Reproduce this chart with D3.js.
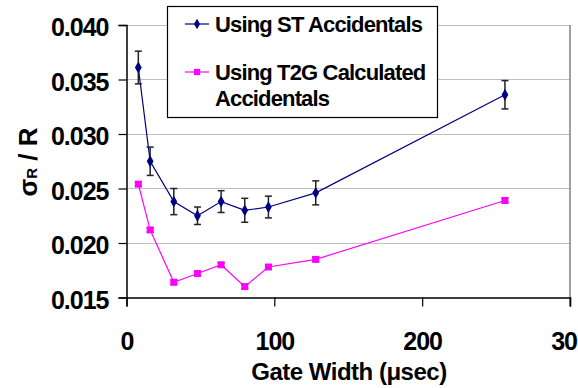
<!DOCTYPE html>
<html>
<head>
<meta charset="utf-8">
<script src="https://cdn.jsdelivr.net/npm/d3@7"></script>
<style>
  body { margin: 0; background: #fff; }
  text { font-family: "Liberation Sans", Arial, sans-serif; font-weight: bold; fill: #000; }
</style>
</head>
<body>
<svg id="chart" width="578" height="388"></svg>
<script>
var gateWidths = [8, 16, 32, 48, 64, 80, 96, 128, 256];
var stVals = [0.0361, 0.0275, 0.0238, 0.0225, 0.0238, 0.0230, 0.0233, 0.0246, 0.0336];
var stErr = [0.0015, 0.0013, 0.0012, 0.0008, 0.0010, 0.0011, 0.0010, 0.0011, 0.0013];
var t2gVals = [0.0254, 0.0212, 0.0164, 0.0172, 0.0180, 0.0160, 0.0178, 0.0185, 0.0239];
var t2gErr = [0.0002, 0.0002, 0.0002, 0.0002, 0.0002, 0.0002, 0.0002, 0.0002, 0.0002];
var xTicks = [0, 100, 200, 300];
var yTicks = [0.015, 0.020, 0.025, 0.030, 0.035, 0.040];
var legendLabels = [["Using ST Accidentals"], ["Using T2G Calculated", "Accidentals"]];

var svg = d3.select("#chart");

var x = d3.scaleLinear().domain([0, 300]).range([126.5, 570]);
var y = d3.scaleLinear().domain([0.015, 0.040]).range([297.5, 25]);

// gridlines
svg.append("g").selectAll("line")
  .data(yTicks.slice(1))
  .enter().append("line")
  .attr("x1", x(0)).attr("x2", x(300))
  .attr("y1", function(d) { return Math.round(y(d)) + 0.5; })
  .attr("y2", function(d) { return Math.round(y(d)) + 0.5; })
  .attr("stroke", "#808080")
  .attr("stroke-width", 1)
  .attr("stroke-dasharray", "1,1");

// right border
svg.append("line")
  .attr("x1", x(300)).attr("x2", x(300))
  .attr("y1", y(0.040)).attr("y2", y(0.015) + 9)
  .attr("stroke", "#808080").attr("stroke-width", 1.5);

// y axis
var yAxis = svg.append("g")
  .attr("transform", "translate(" + x(0) + ",0)")
  .call(d3.axisLeft(y).tickValues(yTicks).tickSize(8).tickPadding(10)
    .tickFormat(d3.format(".3f")));
yAxis.select(".domain").attr("stroke", "#000").attr("stroke-width", 1.5);
yAxis.selectAll(".tick line").attr("stroke", "#000").attr("stroke-width", 1.2);
yAxis.selectAll(".tick text")
  .attr("dy", "0.42em")
  .style("font-size", "25px")
  .style("letter-spacing", "-1px")
  .style("font-family", "Liberation Sans, Arial, sans-serif")
  .style("font-weight", "bold");

// x axis
var xAxis = svg.append("g")
  .attr("transform", "translate(0," + y(0.015) + ")")
  .call(d3.axisBottom(x).tickValues(xTicks).tickSize(9).tickPadding(26)
    .tickFormat(d3.format("d")));
xAxis.select(".domain").attr("stroke", "#000").attr("stroke-width", 1.5);
xAxis.selectAll(".tick line").attr("stroke", "#000").attr("stroke-width", 1.2);
xAxis.selectAll(".tick text")
  .attr("dy", "0.71em")
  .style("font-size", "25px")
  .style("letter-spacing", "-1px")
  .style("font-family", "Liberation Sans, Arial, sans-serif")
  .style("font-weight", "bold");

// axis titles
svg.append("text")
  .attr("x", 349).attr("y", 380)
  .attr("text-anchor", "middle")
  .style("font-size", "24px")
  .style("letter-spacing", "-0.5px")
  .text("Gate Width (\u03bcsec)");

var yTitle = svg.append("text")
  .attr("transform", "translate(37,162) rotate(-90)")
  .attr("text-anchor", "middle")
  .style("font-size", "26px");
yTitle.append("tspan").text("\u03c3");
yTitle.append("tspan").style("font-size", "15px").text("R");
yTitle.append("tspan").text(" / R");

// series
var series = [
  { vals: stVals, err: stErr, color: "#000080", shape: d3.symbolDiamond, size: 40 },
  { vals: t2gVals, err: t2gErr, color: "#FF00FF", shape: d3.symbolSquare, size: 48 }
];

var line = d3.line()
  .x(function(d) { return x(d[0]); })
  .y(function(d) { return y(d[1]); });

series.forEach(function(s) {
  var pts = gateWidths.map(function(g, i) { return [g, s.vals[i], s.err[i]]; });
  var g = svg.append("g");

  g.append("path")
    .datum(pts)
    .attr("d", line)
    .attr("fill", "none")
    .attr("stroke", s.color)
    .attr("stroke-width", 1.2);

  var eb = g.selectAll(".eb").data(pts).enter().append("g");
  eb.append("line")
    .attr("x1", function(d) { return x(d[0]); })
    .attr("x2", function(d) { return x(d[0]); })
    .attr("y1", function(d) { return y(d[1] + d[2]); })
    .attr("y2", function(d) { return y(d[1] - d[2]); })
    .attr("stroke", "#222").attr("stroke-width", 1.5);
  [1, -1].forEach(function(sg) {
    eb.append("line")
      .attr("x1", function(d) { return x(d[0]) - 3.5; })
      .attr("x2", function(d) { return x(d[0]) + 3.5; })
      .attr("y1", function(d) { return y(d[1] + sg * d[2]); })
      .attr("y2", function(d) { return y(d[1] + sg * d[2]); })
      .attr("stroke", "#222").attr("stroke-width", 1.5);
  });

  g.selectAll(".pt").data(pts).enter().append("path")
    .attr("transform", function(d) { return "translate(" + x(d[0]) + "," + y(d[1]) + ")"; })
    .attr("d", d3.symbol().type(s.shape).size(s.size))
    .attr("fill", s.color);
});

// legend
var legend = svg.append("g");
legend.append("rect")
  .attr("x", 167.5).attr("y", 6.5)
  .attr("width", 270).attr("height", 111)
  .attr("fill", "#fff").attr("stroke", "#000").attr("stroke-width", 1.2);

var legendRows = [24, 72];
series.forEach(function(s, i) {
  var ly = legendRows[i];
  legend.append("line")
    .attr("x1", 185).attr("x2", 209)
    .attr("y1", ly).attr("y2", ly)
    .attr("stroke", s.color).attr("stroke-width", 1.2);
  legend.append("path")
    .attr("transform", "translate(197," + ly + ")")
    .attr("d", d3.symbol().type(s.shape).size(s.size * 0.8))
    .attr("fill", s.color);
  legendLabels[i].forEach(function(t, j) {
    legend.append("text")
      .attr("x", 215).attr("y", ly + 8 + j * 26)
      .style("font-size", "22px")
      .style("letter-spacing", "-0.85px")
      .text(t);
  });
});
</script>
</body>
</html>
